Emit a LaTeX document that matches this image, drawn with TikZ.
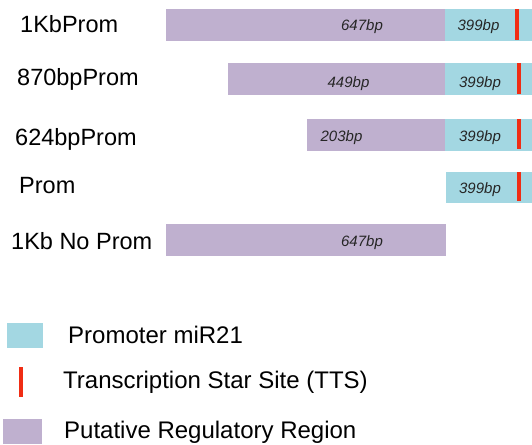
\documentclass[tikz,border=0pt]{standalone}
\usepackage{fontspec}
\setmainfont{Liberation Sans}
\definecolor{regpurple}{RGB}{191,176,207}
\definecolor{promcyan}{RGB}{163,215,226}
\definecolor{ttsred}{RGB}{240,45,20}
\begin{document}
\begin{tikzpicture}[x=1pt,y=-1pt,
  region/.style={fill=regpurple},
  promoter/.style={fill=promcyan},
  tts/.style={fill=ttsred},
  rowlabel/.style={anchor=base west, inner sep=0pt, font=\fontsize{23.5}{28}\selectfont},
  sizelabel/.style={anchor=base, inner sep=0pt, font=\fontsize{15}{18}\selectfont\itshape, text=black!85},
  legendtext/.style={anchor=base west, inner sep=0pt, font=\fontsize{24}{28}\selectfont}]
\useasboundingbox (0,0) rectangle (532,444);

% construct 1: 1Kb promoter
\fill[region]   (166,9.5) rectangle (445,41.5);
\fill[promoter] (445,9.5) rectangle (532,41.5);
\fill[tts]      (515.3,9.5) rectangle (518.8,40);
\node[rowlabel]  (l1)  at (20,32.2)  {1KbProm};
\node[sizelabel] (s1a) at (362,31)   {647bp};
\node[sizelabel] (s1b) at (478.5,31) {399bp};

% construct 2: 870bp promoter
\fill[region]   (228,63) rectangle (445,95);
\fill[promoter] (445,63) rectangle (532,95);
\fill[tts]      (517.3,63) rectangle (520.8,93.5);
\node[rowlabel]  (l2)  at (17,85)    {870bpProm};
\node[sizelabel] (s2a) at (348.5,87) {449bp};
\node[sizelabel] (s2b) at (480,87)   {399bp};

% construct 3: 624bp promoter
\fill[region]   (307,119.3) rectangle (445,150.7);
\fill[promoter] (445,119.3) rectangle (532,150.7);
\fill[tts]      (517.3,119.3) rectangle (520.8,149);
\node[rowlabel]  (l3)  at (15,145)   {624bpProm};
\node[sizelabel] (s3a) at (341.5,141) {203bp};
\node[sizelabel] (s3b) at (480,141)  {399bp};

% construct 4: promoter only
\fill[promoter] (446,171.7) rectangle (532,202.7);
\fill[tts]      (517.3,171.7) rectangle (520.8,201);
\node[rowlabel]  (l4)  at (19,193)   {Prom};
\node[sizelabel] (s4b) at (480,193.5) {399bp};

% construct 5: regulatory region without promoter
\fill[region]   (166,224) rectangle (445.5,256);
\node[rowlabel]  (l5)  at (11,249)   {1Kb No Prom};
\node[sizelabel] (s5a) at (362,246)  {647bp};

% legend
\fill[promoter] (7,323) rectangle (43,348);
\node[legendtext] (k1) at (68,343) {Promoter miR21};
\fill[tts] (19,367) rectangle (22.5,397);
\node[legendtext] (k2) at (63,388) {Transcription Star Site (TTS)};
\fill[region] (3,419) rectangle (42,444);
\node[legendtext] (k3) at (64,438) {Putative Regulatory Region};
\end{tikzpicture}
\end{document}
